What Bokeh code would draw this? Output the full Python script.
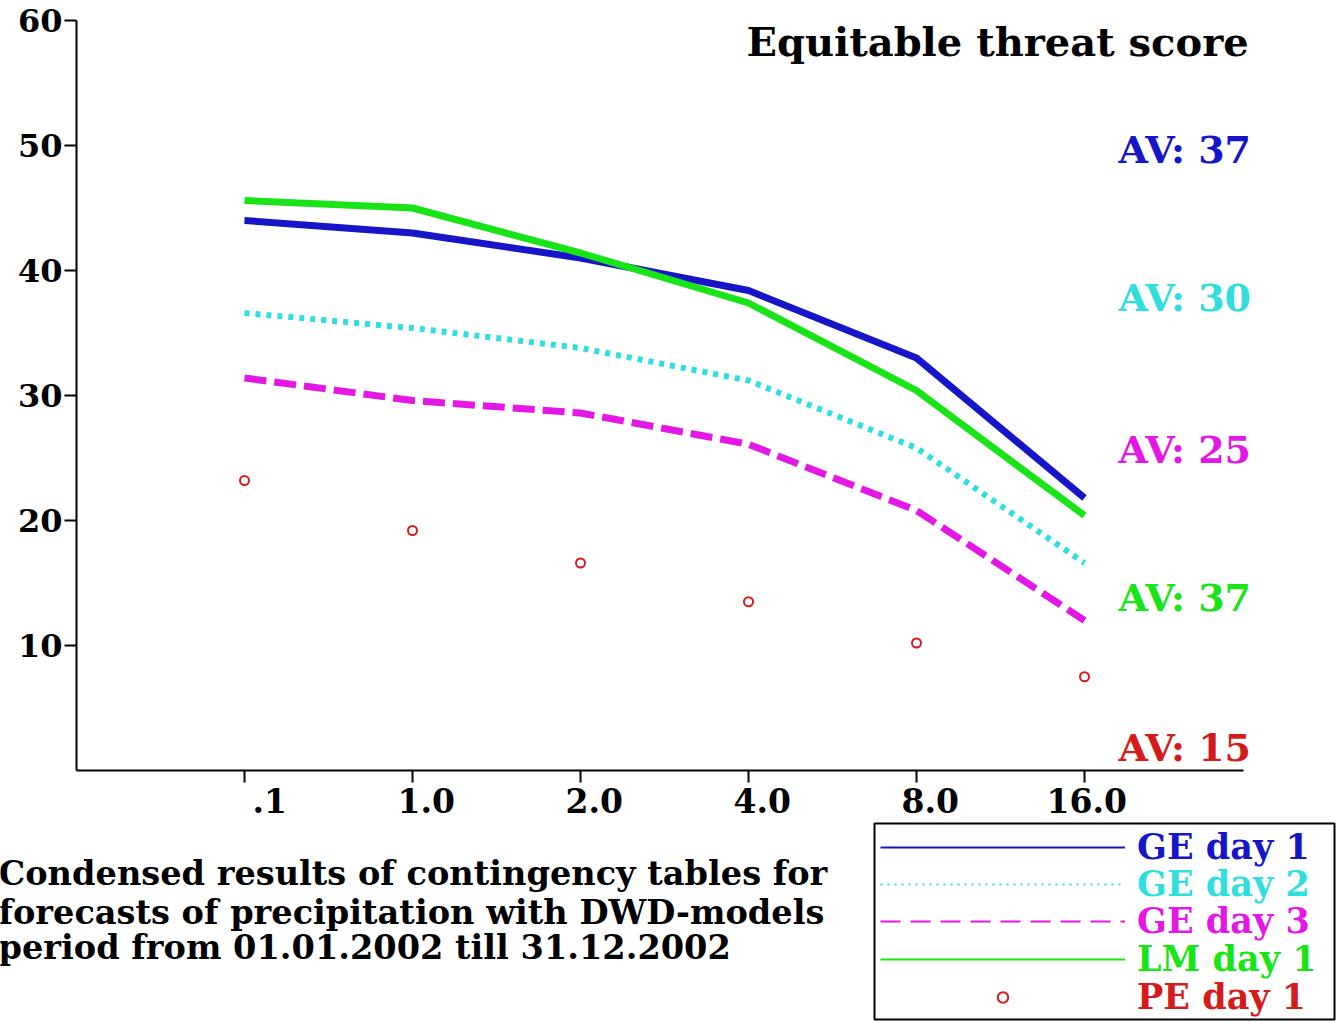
from bokeh.plotting import figure
from bokeh.models import (Range1d, LinearAxis, FixedTicker, Label, Legend,
                          LegendItem)
from bokeh.layouts import column, row
from bokeh.embed import file_html
from bokeh.resources import INLINE

# ---------------- data ----------------
thresholds = [".1", "1.0", "2.0", "4.0", "8.0", "16.0"]
ge_day1 = [44.0, 43.0, 41.0, 38.4, 33.0, 21.8]
ge_day2 = [36.6, 35.4, 33.8, 31.2, 25.8, 16.6]
ge_day3 = [31.4, 29.6, 28.6, 26.1, 20.8, 12.0]
lm_day1 = [45.6, 45.0, 41.4, 37.4, 30.4, 20.4]
pe_day1 = [23.2, 19.2, 16.6, 13.5, 10.2, 7.5]
series_names = ["GE day 1", "GE day 2", "GE day 3", "LM day 1", "PE day 1"]
av_values = [37, 30, 25, 37, 15]
y_ticks = [10, 20, 30, 40, 50, 60]
title_text = "Equitable threat score"
note_lines = ["Condensed results of contingency tables for",
              "forecasts of precipitation with DWD-models",
              "period from 01.01.2002 till 31.12.2002"]

# ---------------- style ----------------
FONT = "DejaVu Serif"
BLUE = "#1616c8"
CYAN = "#30dede"
MAGENTA = "#e418e4"
GREEN = "#18e418"
RED = "#d41c1c"
colors = [BLUE, CYAN, MAGENTA, GREEN, RED]

idx = list(range(len(thresholds)))
PX_PER_UNIT_X = 168.0
X_END = 5.946

# ---------------- main chart ----------------
p = figure(width=1336, height=822, output_backend="svg", toolbar_location=None,
           x_range=Range1d(-1, -1 + 1260 / PX_PER_UNIT_X), y_range=Range1d(0, 60),
           x_axis_type=None, y_axis_type=None,
           min_border_left=76, min_border_right=0, min_border_top=20,
           min_border_bottom=52)
p.outline_line_color = None
p.border_fill_color = "white"

yax = LinearAxis(ticker=FixedTicker(ticks=y_ticks), axis_line_width=2,
                 major_tick_line_width=2, major_tick_out=12, major_tick_in=0,
                 minor_tick_line_color=None, major_label_standoff=2,
                 major_label_text_font=FONT, major_label_text_font_style="bold",
                 major_label_text_font_size="32px", major_label_text_color="black")
p.add_layout(yax, "left")

# x axis: tick marks at the thresholds (minor ticks), labels right-aligned
# at tick + 43px (major ticks, not drawn)
XFS = 33
def label_width(s):
    return XFS * sum(0.38 if c == "." else 0.696 for c in s)

label_ticks = []
overrides = {}
for i, s in zip(idx, thresholds):
    t = round(i + (43 - label_width(s) / 2) / PX_PER_UNIT_X, 4)
    label_ticks.append(t)
    overrides[t] = s
xax = LinearAxis(ticker=FixedTicker(ticks=label_ticks, minor_ticks=idx),
                 bounds=(-1, X_END), axis_line_width=2,
                 major_tick_line_color=None, major_tick_out=0, major_tick_in=0,
                 minor_tick_line_color="black", minor_tick_line_width=2,
                 minor_tick_out=12, minor_tick_in=0,
                 major_label_standoff=5, major_label_overrides=overrides,
                 major_label_text_font=FONT, major_label_text_font_style="bold",
                 major_label_text_font_size=f"{XFS}px",
                 major_label_text_color="black")
p.add_layout(xax, "below")

def draw_series(fig, thin=False):
    w = 2 if thin else None
    r1 = fig.line(idx, ge_day1, line_color=BLUE, line_width=w or 7, line_join="round")
    r2 = fig.line(idx, ge_day2, line_color=CYAN, line_width=w or 6,
                  line_dash="2 5" if thin else "5 6")
    r3 = fig.line(idx, ge_day3, line_color=MAGENTA, line_width=w or 7,
                  line_dash="20 10" if thin else "22 8")
    r4 = fig.line(idx, lm_day1, line_color=GREEN, line_width=w or 7, line_join="round")
    r5 = fig.scatter(idx, pe_day1, marker="circle", size=9, line_color=RED,
                     line_width=2, fill_color=None)
    return [r1, r2, r3, r4, r5]

draw_series(p)

# frame-relative screen coords: fx = X - 76, fy = 770 - Y (page px)
p.add_layout(Label(x=670, y=729, x_units="screen", y_units="screen",
                   text=title_text, text_font=FONT, text_font_style="bold",
                   text_font_size="40px", text_color="black",
                   text_baseline="alphabetic"))

av_y = [149, 297, 449, 597, 747]
for v, col, yb in zip(av_values, colors, av_y):
    p.add_layout(Label(x=1042, y=770 - yb, x_units="screen", y_units="screen",
                       text=f"AV: {v}", text_font=FONT, text_font_style="bold",
                       text_font_size="38px", text_color=col,
                       text_baseline="alphabetic"))

# ---------------- note ----------------
pt = figure(width=873, height=200, output_backend="svg", toolbar_location=None,
            x_range=Range1d(0, 1), y_range=Range1d(0, 1),
            x_axis_type=None, y_axis_type=None, min_border=0)
pt.outline_line_color = None
note_y = [875, 914, 949]
for line, yb in zip(note_lines, note_y):
    pt.add_layout(Label(x=-2, y=1022 - yb, x_units="screen", y_units="screen",
                        text=line, text_font=FONT, text_font_style="bold",
                        text_font_size="33.6px", text_color="black",
                        text_baseline="alphabetic"))

# ---------------- legend ----------------
# same series drawn thin; they fall outside this panel's ranges, so only
# their legend glyphs are visible
pl = figure(width=463, height=200, output_backend="svg", toolbar_location=None,
            x_range=Range1d(0, 1), y_range=Range1d(0, 1),
            x_axis_type=None, y_axis_type=None,
            min_border_left=1, min_border_right=2, min_border_top=1,
            min_border_bottom=3)
pl.outline_line_color = "black"
pl.outline_line_width = 2
legend_renderers = draw_series(pl, thin=True)

row_centers = [848, 885, 922, 960, 998]
glyph_heights = [38, 38, 38, 38, 26]
ROW_H = 38
for name, col, r, yc, gh in zip(series_names, colors, legend_renderers,
                                row_centers, glyph_heights):
    leg = Legend(items=[LegendItem(label=name, renderers=[r])],
                 location=(6, 1019 - yc - ROW_H // 2),
                 glyph_width=245, glyph_height=gh, label_height=ROW_H,
                 label_standoff=12, padding=0, margin=0, spacing=0,
                 border_line_color=None, background_fill_alpha=0,
                 label_text_font=FONT, label_text_font_style="bold",
                 label_text_font_size="35px", label_text_color=col)
    pl.add_layout(leg)

layout = column(p, row(pt, pl))
open("out.html", "w").write(file_html(layout, INLINE))
